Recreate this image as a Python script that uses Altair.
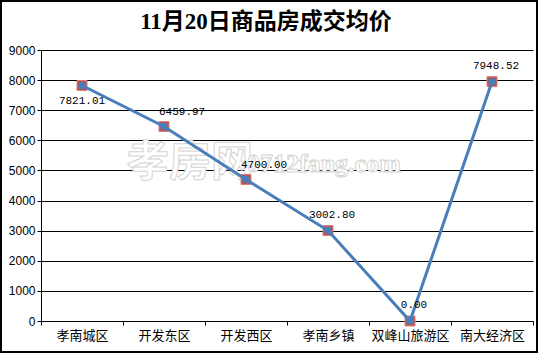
import altair as alt
import pandas as pd

categories = ["孝南城区", "开发东区", "开发西区", "孝南乡镇", "双峰山旅游区", "南大经济区"]
prices = [7821.01, 6459.97, 4700.00, 3002.80, 0.00, 7948.52]
labels = ["7821.01", "6459.97", "4700.00", "3002.80", "0.00", "7948.52"]
y_ticks = list(range(0, 9001, 1000))
title_text = "11月20日商品房成交均价"
watermark_cn = "孝房网"
watermark_en = "0712fang.com"

df = pd.DataFrame({"cat": categories, "price": prices, "label": labels})

W, H = 492, 271

x_enc = alt.X(
    "cat:N",
    sort=categories,
    scale=alt.Scale(type="band", paddingInner=0, paddingOuter=0),
    axis=alt.Axis(
        title=None, labelAngle=0, tickBand="extent", grid=False,
        domainColor="black", tickColor="black", tickSize=4,
        labelFont="Noto Sans CJK SC", labelFontSize=13, labelColor="black",
        labelPadding=4,
    ),
)
y_enc = alt.Y(
    "price:Q",
    scale=alt.Scale(domain=[0, 9000], nice=False),
    axis=alt.Axis(
        title=None, values=y_ticks, format="d", grid=True, gridColor="black",
        gridOpacity=1, domainColor="black", tickColor="black", tickSize=4,
        labelFont="Liberation Sans", labelFontSize=12, labelColor="black",
        labelPadding=2,
    ),
)

base = alt.Chart(df).encode(x=x_enc, y=y_enc)

squares = base.mark_point(shape="square", filled=True, size=100, color="#C0504D",
                          stroke="#D9807D", strokeWidth=1, opacity=1)
line = base.mark_line(color="#4A7EBB", strokeWidth=3)
dots = base.mark_point(shape="circle", filled=True, size=55, color="#4A7EBB", opacity=1)

lbl_style = dict(font="Liberation Mono", fontSize=11, color="black", baseline="middle")
lbl_below = base.mark_text(align="center", dx=0, dy=15, **lbl_style).encode(
    text="label:N").transform_filter(alt.datum.cat == categories[0])
lbl_left = base.mark_text(align="left", dx=-5, dy=-14, **lbl_style).encode(
    text="label:N").transform_filter(
    (alt.datum.cat == categories[1]) | (alt.datum.cat == categories[2]))
lbl_center = base.mark_text(align="center", dx=4, dy=-16, **lbl_style).encode(
    text="label:N").transform_filter(
    (alt.datum.cat == categories[3]) | (alt.datum.cat == categories[4]) |
    (alt.datum.cat == categories[5]))

one = alt.Chart(pd.DataFrame({"t": [title_text], "w1": [watermark_cn], "w2": [watermark_en]}))

wm1 = one.mark_text(font="Noto Sans CJK SC", fontSize=42, fontWeight="bold",
                    color="#ffffff", stroke="#d4d4d4", strokeWidth=1,
                    align="left", baseline="middle").encode(
    text="w1:N", x=alt.value(86), y=alt.value(113))
wm2 = one.mark_text(font="Liberation Serif", fontSize=26, fontWeight="bold",
                    color="#ffffff", stroke="#d4d4d4", strokeWidth=1,
                    align="left", baseline="alphabetic").encode(
    text="w2:N", x=alt.value(206), y=alt.value(122))

title = one.mark_text(font="Liberation Serif, Noto Sans CJK SC", fontSize=23,
                      fontWeight="bold", color="black", align="center",
                      baseline="middle").encode(
    text="t:N", x=alt.value(225), y=alt.value(-28))

frame = one.mark_rect(fill=None, stroke="black", strokeWidth=2).encode(
    x=alt.value(-40), x2=alt.value(496), y=alt.value(-49), y2=alt.value(302))

chart = alt.layer(
    wm1, wm2, squares, line, dots, lbl_below, lbl_left, lbl_center, title, frame
).properties(
    width=W, height=H,
    autosize=alt.AutoSizeParams(type="none"),
    padding={"left": 41, "top": 50, "right": 5, "bottom": 32},
    background="white",
).configure_view(stroke=None)

chart.save("out.html", embed_options={"renderer": "svg", "actions": False})
